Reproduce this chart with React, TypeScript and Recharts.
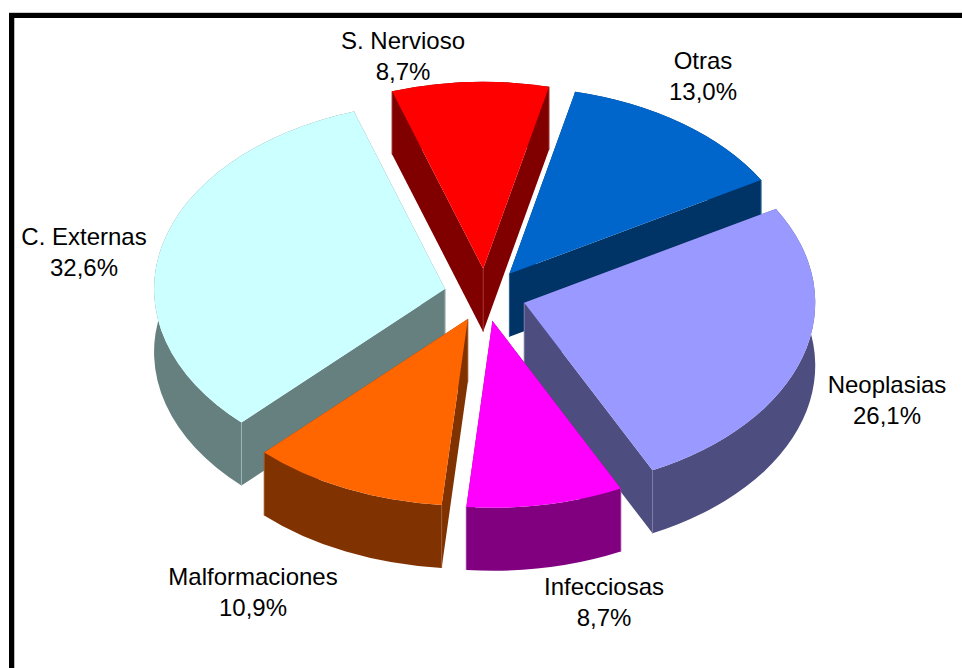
import { Cell, Pie, PieChart } from "recharts"

// starts at C. Externas so the front slices are painted over its wall
const names = ["C. Externas", "S. Nervioso", "Otras", "Neoplasias", "Infecciosas", "Malformaciones"]
const values = [32.6, 8.7, 13.0, 26.1, 8.7, 10.9]
const topColors = ["#CCFFFF", "#FF0000", "#0066CC", "#9999FF", "#FF00FF", "#FF6600"]
const sideColors = ["#668080", "#800000", "#003366", "#4D4D80", "#800080", "#803300"]
const seamColors = ["#9DB5B5", "#A03030", "#33669A", "#7C7CA8", "#A040A0", "#A05A30"]

const data = names.map((name, i) => ({ name, value: values[i] }))

// label centre relative to the pie centre, first line
const labelOffsets: Record<string, [number, number]> = {
  Otras: [218, -233],
  Neoplasias: [402, 91],
  Infecciosas: [119, 293],
  Malformaciones: [-232, 283],
  "C. Externas": [-401, -57],
  "S. Nervioso": [-82, -253],
}

const TILT = 0.642
const DEPTH = 63
const EXPLODE = 41
const RAD = Math.PI / 180

function formatPct(v: number): string {
  return `${v.toFixed(1).replace(".", ",")}%`
}

// one slice seen from above: side walls first, then the top face
function Slice3D(props: any) {
  const { cx, cy, outerRadius: rx, startAngle, endAngle, index } = props
  const ry = rx * TILT
  const mid = ((startAngle + endAngle) / 2) * RAD
  const ax = cx + EXPLODE * Math.cos(mid)
  const ay = cy - EXPLODE * TILT * Math.sin(mid)
  const x1 = ax + rx * Math.cos(startAngle * RAD)
  const y1 = ay - ry * Math.sin(startAngle * RAD)
  const x2 = ax + rx * Math.cos(endAngle * RAD)
  const y2 = ay - ry * Math.sin(endAngle * RAD)
  const large = Math.abs(startAngle - endAngle) > 180 ? 1 : 0
  const side = sideColors[index]
  const seam = seamColors[index]

  const rim = `M${x1},${y1} A${rx},${ry} 0 ${large} 1 ${x2},${y2} L${x2},${y2 + DEPTH} A${rx},${ry} 0 ${large} 0 ${x1},${y1 + DEPTH} Z`
  const wall1 = `M${ax},${ay} L${x1},${y1} L${x1},${y1 + DEPTH} L${ax},${ay + DEPTH} Z`
  const wall2 = `M${ax},${ay} L${x2},${y2} L${x2},${y2 + DEPTH} L${ax},${ay + DEPTH} Z`
  const top = `M${ax},${ay} L${x1},${y1} A${rx},${ry} 0 ${large} 1 ${x2},${y2} Z`

  return (
    <g>
      <path d={rim} fill={side} />
      <path d={wall1} fill={side} />
      <path d={wall2} fill={side} />
      <line x1={ax} y1={ay} x2={ax} y2={ay + DEPTH} stroke={seam} />
      <line x1={x1} y1={y1} x2={x1} y2={y1 + DEPTH} stroke={seam} />
      <line x1={x2} y1={y2} x2={x2} y2={y2 + DEPTH} stroke={seam} />
      <path d={top} fill={topColors[index]} />
    </g>
  )
}

function renderLabel(props: any) {
  const { cx, cy, name, value } = props
  const [dx, dy] = labelOffsets[name]
  const x = cx + dx
  const y = cy + dy
  return (
    <text x={x} y={y} textAnchor="middle" fill="#000" fontSize={24} fontFamily="Liberation Sans">
      <tspan x={x} dy={7}>{name}</tspan>
      <tspan x={x} dy={31}>{formatPct(value)}</tspan>
    </text>
  )
}

export default function App() {
  return (
    <div style={{ position: "absolute", left: 0, top: 0, width: 962, height: 668, overflow: "hidden", background: "#fff" }}>
      <div
        style={{
          position: "absolute",
          left: 9,
          top: 13,
          width: 953,
          height: 655,
          boxSizing: "border-box",
          borderTop: "5px solid #000",
          borderLeft: "5px solid #000",
          boxShadow: "0 -1px 0 #ccc, inset 1px 0 0 #bbb",
        }}
      />
      <div style={{ position: "absolute", left: 0, top: 0 }}>
        <PieChart width={962} height={668} margin={{ top: 0, right: 0, bottom: 0, left: 0 }}>
          <Pie
            data={data}
            dataKey="value"
            nameKey="name"
            cx={485}
            cy={295}
            innerRadius={0}
            outerRadius={291}
            startAngle={-134.4}
            endAngle={-494.4}
            stroke="none"
            shape={Slice3D}
            label={renderLabel}
            labelLine={false}
            isAnimationActive={false}
          >
            {data.map((d, i) => (
              <Cell key={d.name} fill={topColors[i]} />
            ))}
          </Pie>
        </PieChart>
      </div>
    </div>
  )
}
